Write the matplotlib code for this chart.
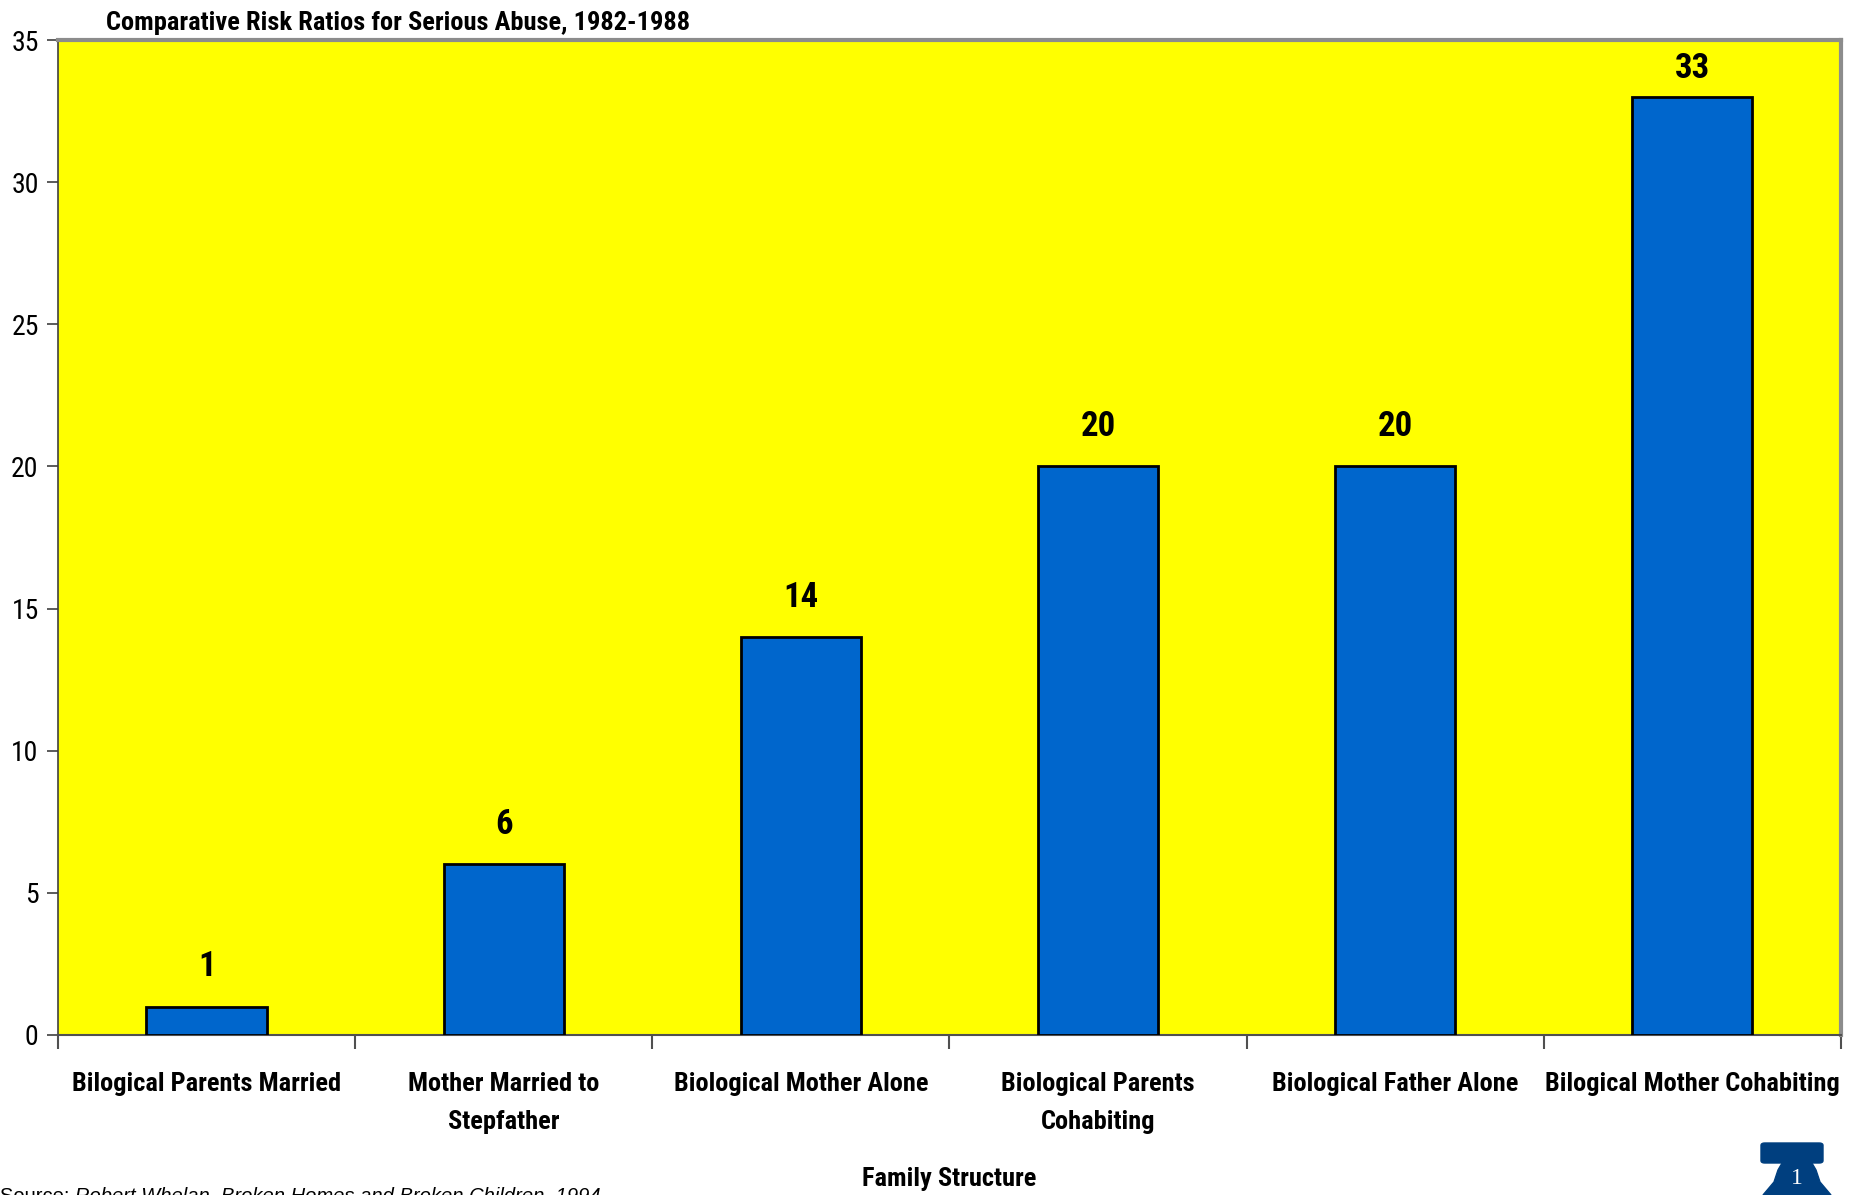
import matplotlib
matplotlib.use("Agg")
import matplotlib.pyplot as plt
from matplotlib.patches import FancyBboxPatch, Polygon

# Arial Narrow look-alike; Roboto Condensed ships a real bold weight
plt.rcParams["font.family"] = ["Roboto Condensed", "Archivo Narrow", "Liberation Sans", "DejaVu Sans"]

categories = [
    "Bilogical Parents Married",
    "Mother Married to\nStepfather",
    "Biological Mother Alone",
    "Biological Parents\nCohabiting",
    "Biological Father Alone",
    "Bilogical Mother Cohabiting",
]
risk_ratios = [1, 6, 14, 20, 20, 33]
y_ticks = [0, 5, 10, 15, 20, 25, 30, 35]

BAR_COLOR = "#0066CC"
BG_COLOR = "#FFFF00"

fig = plt.figure(figsize=(18.5, 11.95), dpi=100)
ax = fig.add_axes([0.0314, 0.1339, 0.9636, 0.8326])
ax.set_facecolor(BG_COLOR)

x = range(len(categories))
ax.bar(x, risk_ratios, width=0.405, color=BAR_COLOR, edgecolor="black", linewidth=2, zorder=3)
for xi, v in zip(x, risk_ratios):
    # Excel keeps the label inside the plot area for the tallest bar
    ax.text(xi, min(v + 1.4, 34.0), str(v), ha="center", va="center", fontsize=25,
            fontweight="bold")

ax.set_xlim(-0.5, len(categories) - 0.5)
ax.set_ylim(0, 35)
ax.set_yticks(y_ticks)
ax.set_yticklabels([str(t) for t in y_ticks], fontsize=20)
ax.tick_params(axis="y", direction="out", length=8, width=1.2, pad=6, color="#404040")

# category labels centred, tick marks at category boundaries
ax.set_xticks([i + 0.5 for i in range(-1, len(categories))])
ax.set_xticklabels([])
ax.tick_params(axis="x", direction="out", length=10, width=1.5, color="#505050")
for xi, lab in zip(x, categories):
    ax.text(xi, -1.3, lab, ha="center", va="top", fontsize=19, fontweight="bold",
            linespacing=1.75)

ax.spines["left"].set_color("#404040")
ax.spines["left"].set_linewidth(1.2)
ax.spines["bottom"].set_color("#505050")
ax.spines["bottom"].set_linewidth(1.5)
for side in ("top", "right"):
    ax.spines[side].set_color("#8c8c8c")
    ax.spines[side].set_linewidth(3)

fig.text(0.0575, 0.981, "Comparative Risk Ratios for Serious Abuse, 1982-1988",
         ha="left", va="center", fontsize=19, fontweight="bold")
fig.text(0.513, 1 - 1179 / 1195, "Family Structure", ha="center", va="center",
         fontsize=19, fontweight="bold")

src_y = 1 - 1187 / 1195
src = fig.text(0.0, src_y, "Source: ", ha="left", va="top", fontsize=14.5,
               family=["Liberation Sans", "DejaVu Sans"])
fig.canvas.draw()
bb = src.get_window_extent()
fig.text(bb.x1 / fig.bbox.width, src_y, "Robert Whelan, Broken Homes and Broken Children, 1994",
         ha="left", va="top", fontsize=14.5, style="italic",
         family=["Liberation Sans", "DejaVu Sans"])

# small liberty-bell logo in the corner
navy = "#003F7F"
fig.patches.append(FancyBboxPatch((1761 / 1850, 1 - 1163 / 1195), 62 / 1850, 20 / 1195,
                                  boxstyle="round,pad=0,rounding_size=0.002",
                                  transform=fig.transFigure, color=navy))
bell = [(1763, 1195), (1774, 1182), (1778, 1170), (1785, 1158), (1797, 1154), (1809, 1158),
        (1816, 1170), (1820, 1182), (1831, 1195)]
fig.patches.append(Polygon([(px / 1850, 1 - py / 1195) for px, py in bell],
                           closed=True, transform=fig.transFigure, color=navy))
fig.text(1797 / 1850, 1 - 1179 / 1195, "1", ha="center", va="center", fontsize=17,
         color="white", family=["Liberation Serif", "DejaVu Serif"])

fig.savefig("out.png", dpi=100)
